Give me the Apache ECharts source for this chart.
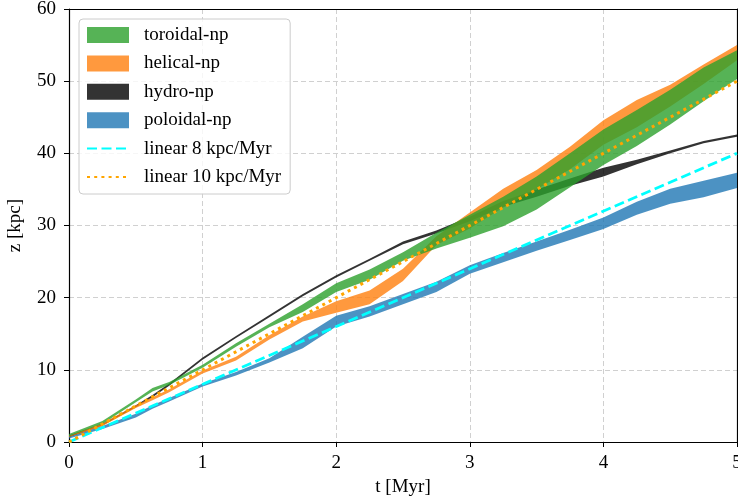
<!DOCTYPE html>
<html>
<head>
<meta charset="utf-8">
<script src="https://cdn.jsdelivr.net/npm/echarts@6/dist/echarts.min.js"></script>
<style>html,body{margin:0;padding:0;background:#fff;}#c{width:738px;height:504px;}</style>
</head>
<body>
<div id="c"></div>
<script>
// time grid [Myr]
const tGrid = [0, 0.25, 0.5, 0.625, 0.75, 1, 1.25, 1.5, 1.75, 2, 2.25, 2.5, 2.75, 3, 3.25, 3.5, 3.75, 4, 4.25, 4.5, 4.75, 5];
// toroidal-np band [kpc]
const torLo = [0.8, 2.5, 5.5, 7.0, 7.9, 10.3, 13.2, 15.9, 18.0, 20.8, 22.5, 25.1, 26.8, 28.3, 29.9, 32.2, 35.3, 38.4, 41.0, 44.0, 47.2, 50.3];
const torHi = [1.1, 2.9, 5.9, 7.5, 8.3, 10.7, 13.7, 16.4, 19.1, 22.0, 23.9, 26.3, 29.0, 31.5, 34.0, 36.8, 40.0, 43.3, 46.0, 48.8, 51.9, 54.3];
// helical-np band
const helLo = [0.7, 2.2, 4.7, 5.8, 6.9, 9.5, 11.3, 14.2, 16.7, 17.9, 19.1, 22.3, 27.3, 29.6, 32.5, 35.0, 37.8, 41.2, 43.6, 46.5, 49.6, 52.9];
const helHi = [0.9, 2.6, 5.1, 6.2, 7.3, 9.9, 11.8, 14.8, 17.4, 19.5, 21.0, 24.0, 28.5, 31.8, 35.1, 37.7, 40.9, 44.6, 47.4, 49.5, 52.3, 55.0];
// hydro-np band
const hydLo = [0.7, 2.3, 4.8, 6.2, 7.8, 11.4, 14.4, 17.3, 20.2, 22.8, 25.1, 27.4, 28.9, 30.6, 32.6, 34.0, 35.5, 36.8, 38.5, 40.0, 41.4, 42.3];
const hydHi = [0.9, 2.5, 5.1, 6.5, 8.1, 11.7, 14.7, 17.6, 20.5, 23.1, 25.4, 27.8, 29.3, 31.2, 33.4, 35.0, 36.5, 38.0, 39.1, 40.4, 41.7, 42.6];
// poloidal-np band
const polLo = [0.5, 1.8, 3.4, 4.6, 5.6, 7.7, 9.2, 11.0, 13.0, 16.0, 17.4, 19.1, 20.8, 23.3, 24.9, 26.5, 28.0, 29.5, 31.5, 33.0, 33.9, 35.2];
const polHi = [0.8, 2.2, 3.9, 5.1, 6.1, 8.1, 9.7, 11.6, 14.6, 17.5, 18.8, 20.5, 22.2, 24.5, 26.2, 27.8, 29.4, 31.1, 33.3, 35.1, 36.2, 37.3];
// reference lines (end points)
const lin8T = [0, 5];
const lin8Z = [0, 40];
const lin10T = [0, 5];
const lin10Z = [0, 50];
// ticks
const xTicks = [0, 1, 2, 3, 4, 5];
const yTicks = [0, 10, 20, 30, 40, 50, 60];

const FONT = 'Liberation Serif';

function band(name, lo, hi, color) {
  return {
    type: 'custom', name: name, clip: true,
    itemStyle: { color: color },
    data: [[tGrid[0], lo[0]]],
    renderItem: function (params, api) {
      const pts = [];
      for (let i = 0; i < tGrid.length; i++) pts.push(api.coord([tGrid[i], hi[i]]));
      for (let i = tGrid.length - 1; i >= 0; i--) pts.push(api.coord([tGrid[i], lo[i]]));
      return { type: 'polygon', shape: { points: pts }, style: { fill: color, opacity: 0.8, stroke: null } };
    }
  };
}

const series = [
  band('poloidal-np', polLo, polHi, '#1f77b4'),
  band('hydro-np', hydLo, hydHi, '#000000'),
  band('helical-np', helLo, helHi, '#ff7f0e'),
  band('toroidal-np', torLo, torHi, '#2ca02c'),
  {
    type: 'line', name: 'linear 8 kpc/Myr', symbol: 'none', showSymbol: false,
    data: lin8T.map((t, i) => [t, lin8Z[i]]),
    itemStyle: { color: '#00ffff' },
    lineStyle: { color: '#00ffff', width: 2.8, type: [10, 4.5], cap: 'butt' }
  },
  {
    type: 'line', name: 'linear 10 kpc/Myr', symbol: 'none', showSymbol: false,
    data: lin10T.map((t, i) => [t, lin10Z[i]]),
    itemStyle: { color: '#ffa500' },
    lineStyle: { color: '#ffa500', width: 3, type: [3, 4.2], cap: 'butt' }
  }
];

const axisLineStyle = { color: '#000', width: 1.2 };

const chart = echarts.init(document.getElementById('c'), null, { renderer: 'canvas' });
chart.setOption({
  animation: false,
  backgroundColor: '#ffffff',
  grid: { left: 69, right: 1, top: 9, bottom: 62, containLabel: false, outerBoundsMode: 'none' },
  legend: {
    orient: 'vertical', left: 79, top: 19,
    padding: [6.5, 9, 7.5, 7],
    itemWidth: 42, itemHeight: 16, itemGap: 9.4,
    backgroundColor: 'rgba(255,255,255,0.8)', borderColor: '#cccccc', borderWidth: 1, borderRadius: 4,
    textStyle: { fontFamily: FONT, fontSize: 19, lineHeight: 19, color: '#000', padding: [0, 0, 0, 10] },
    data: [
      { name: 'toroidal-np', icon: 'rect', itemStyle: { color: '#56b356', opacity: 1, borderWidth: 0 } },
      { name: 'helical-np', icon: 'rect', itemStyle: { color: '#ff993e', opacity: 1, borderWidth: 0 } },
      { name: 'hydro-np', icon: 'rect', itemStyle: { color: '#333333', opacity: 1, borderWidth: 0 } },
      { name: 'poloidal-np', icon: 'rect', itemStyle: { color: '#4c92c3', opacity: 1, borderWidth: 0 } },
      { name: 'linear 8 kpc/Myr', itemStyle: { opacity: 0 } },
      { name: 'linear 10 kpc/Myr', itemStyle: { opacity: 0 } }
    ]
  },
  xAxis: [{
    type: 'value', min: xTicks[0], max: xTicks[xTicks.length - 1], interval: 1,
    name: 't [Myr]', nameLocation: 'middle', nameGap: 36,
    nameTextStyle: { fontFamily: FONT, fontSize: 19, color: '#000' },
    axisLine: { show: true, onZero: false, lineStyle: axisLineStyle },
    axisTick: { show: true, length: 5, lineStyle: { color: '#000', width: 1 } },
    axisLabel: { fontFamily: FONT, fontSize: 19, color: '#000', margin: 12 },
    splitLine: { show: true, lineStyle: { color: '#d0d0d0', width: 1, type: [5, 3] } }
  }, {
    type: 'value', position: 'top', min: xTicks[0], max: xTicks[xTicks.length - 1], interval: 1,
    axisLine: { show: true, onZero: false, lineStyle: axisLineStyle },
    axisTick: { show: false }, axisLabel: { show: false }, splitLine: { show: false }
  }],
  yAxis: [{
    type: 'value', min: yTicks[0], max: yTicks[yTicks.length - 1], interval: 10,
    name: 'z [kpc]', nameLocation: 'middle', nameGap: 44,
    nameTextStyle: { fontFamily: FONT, fontSize: 19, color: '#000' },
    axisLine: { show: true, onZero: false, lineStyle: axisLineStyle },
    axisTick: { show: true, length: 5, lineStyle: { color: '#000', width: 1 } },
    axisLabel: { fontFamily: FONT, fontSize: 19, color: '#000', margin: 13 },
    splitLine: { show: true, lineStyle: { color: '#d0d0d0', width: 1, type: [5, 3] } }
  }, {
    type: 'value', position: 'right', min: yTicks[0], max: yTicks[yTicks.length - 1], interval: 10,
    axisLine: { show: true, onZero: false, lineStyle: axisLineStyle },
    axisTick: { show: false }, axisLabel: { show: false }, splitLine: { show: false }
  }],
  series: series
});
</script>
</body>
</html>
